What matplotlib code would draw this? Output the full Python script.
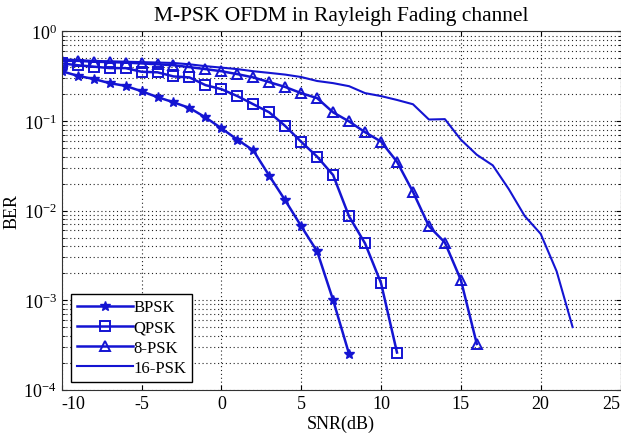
import numpy as np
import matplotlib
matplotlib.use("Agg")
import matplotlib.pyplot as plt
from matplotlib.ticker import LogLocator, NullFormatter

plt.rcParams["font.family"] = ["Liberation Serif", "DejaVu Serif"]
plt.rcParams["mathtext.fontset"] = "stix"
plt.rcParams["axes.unicode_minus"] = False

# SNR (dB) and BER
snr_bpsk = np.arange(-10, 9)
ber_bpsk = [0.36, 0.32, 0.295, 0.265, 0.247, 0.215, 0.185, 0.162, 0.14, 0.11,
            0.083, 0.062, 0.047, 0.0245, 0.013, 0.0067, 0.0035, 0.001, 0.00025]

snr_qpsk = np.arange(-10, 12)
ber_qpsk = [0.44, 0.42, 0.405, 0.39, 0.39, 0.355, 0.35, 0.315, 0.307, 0.252,
            0.227, 0.19, 0.154, 0.125, 0.088, 0.0586, 0.040, 0.0249, 0.0086,
            0.0043, 0.00155, 0.00026]

snr_8psk = np.arange(-10, 17)
ber_8psk = [0.47, 0.47, 0.46, 0.455, 0.45, 0.44, 0.43, 0.42, 0.40, 0.38,
            0.36, 0.334, 0.307, 0.272, 0.24, 0.205, 0.18, 0.125, 0.099, 0.075,
            0.059, 0.0351, 0.0162, 0.0067, 0.0044, 0.00168, 0.000324]

snr_16psk = np.arange(-10, 23)
ber_16psk = [0.49, 0.48, 0.47, 0.465, 0.46, 0.455, 0.45, 0.445, 0.43, 0.41,
             0.395, 0.38, 0.36, 0.345, 0.33, 0.31, 0.28, 0.265, 0.245, 0.205,
             0.19, 0.172, 0.154, 0.104, 0.105, 0.062, 0.042, 0.032, 0.0174,
             0.0087, 0.0055, 0.0021, 0.0005]

xticks = [-10, -5, 0, 5, 10, 15, 20, 25]

blue = "#1414d2"

fig = plt.figure(figsize=(6.21, 4.39), dpi=100)
ax = fig.add_axes([0.0994, 0.110, 0.8998, 0.816])

ax.semilogy(snr_bpsk, ber_bpsk, color=blue, lw=1.8, marker="*", ms=7, label="BPSK")
ax.semilogy(snr_qpsk, ber_qpsk, color=blue, lw=1.8, marker="s", ms=7,
            mfc="none", mew=1.4, label="QPSK")
ax.semilogy(snr_8psk, ber_8psk, color=blue, lw=1.8, marker="^", ms=7.5,
            mfc="none", mew=1.4, label="8-PSK")
ax.semilogy(snr_16psk, ber_16psk, color=blue, lw=1.5, label="16-PSK")

ax.set_xlim(-10, 25)
ax.set_ylim(1e-4, 1)
ax.set_xticks(xticks)
ax.set_xticklabels([str(t) for t in xticks])
labs = ax.get_xticklabels()
labs[0].set_ha("left")
labs[-1].set_ha("right")
ax.yaxis.set_minor_locator(LogLocator(base=10, subs=np.arange(2, 10)))
ax.yaxis.set_minor_formatter(NullFormatter())

dots = (0, (1, 2.5))
ax.grid(True, which="major", ls=dots, color="#222222", lw=0.8)
ax.yaxis.grid(True, which="minor", ls=dots, color="#222222", lw=0.8)
ax.tick_params(which="both", direction="in", top=True, right=True, labelsize=13)
for s in ax.spines.values():
    s.set_color("#333333")

ax.set_title("M-PSK OFDM in Rayleigh Fading channel", fontsize=15.5, pad=8)
ax.set_xlabel("SNR(dB)", fontsize=13, labelpad=2)
ax.set_ylabel("BER", fontsize=13, labelpad=2)

leg = ax.legend(loc="lower left", bbox_to_anchor=(0.016, 0.022), borderaxespad=0,
                fontsize=12, fancybox=False, framealpha=1, edgecolor="k",
                borderpad=0.35, handlelength=3.4, labelspacing=0.25,
                handletextpad=0.0)
leg.get_frame().set_linewidth(1.0)

fig.savefig("out.png", dpi=100)
